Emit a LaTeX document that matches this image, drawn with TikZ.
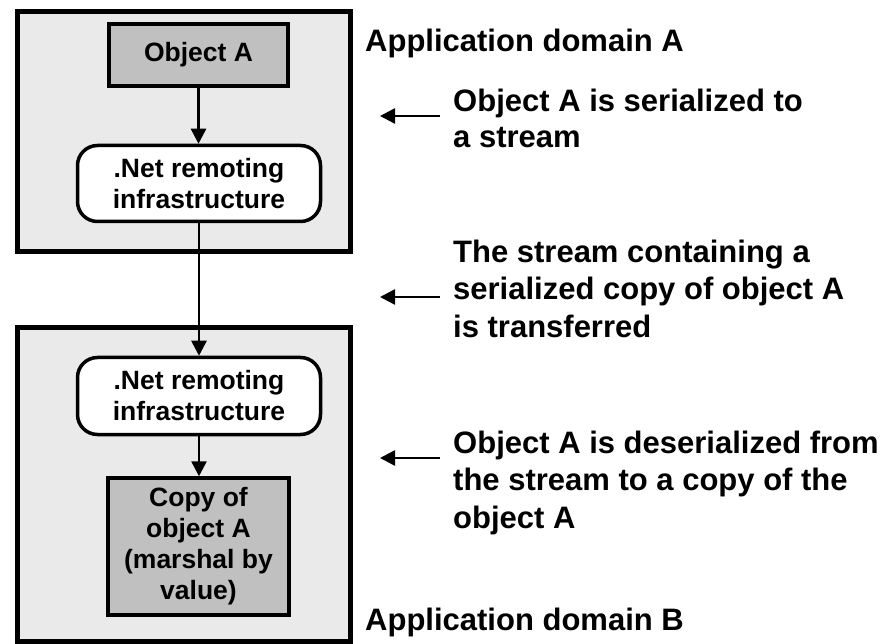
\documentclass[tikz,border=0pt]{standalone}
\usepackage{fontspec}
\setmainfont{Liberation Sans}
\usetikzlibrary{arrows.meta}
\definecolor{domfill}{HTML}{EAEAEA}
\definecolor{objfill}{HTML}{C0C0C0}
\newcommand{\boxfont}{\fontsize{26.5}{31}\selectfont\bfseries}
\newcommand{\lblfont}{\fontsize{31}{37}\selectfont\bfseries}
\tikzset{
  dom/.style={draw=black, line width=4.5pt, fill=domfill, inner sep=0pt},
  obj/.style={draw=black, line width=3.5pt, fill=objfill, inner sep=0pt, align=center, font=\boxfont},
  rnd/.style={draw=black, line width=3.5pt, fill=white, rounded corners=20pt, inner sep=0pt, align=center, font=\boxfont},
  conn/.style={line width=2.6pt, -{Triangle[length=15pt,width=15pt]}},
  pointer/.style={line width=2.6pt, -{Triangle[length=15pt,width=15pt]}},
  lbl/.style={anchor=base west, inner sep=0pt, font=\lblfont}
}
\begin{document}
\begin{tikzpicture}[x=1pt,y=-1pt]
\useasboundingbox (0,0) rectangle (892,644);
\fill[white] (0,0) rectangle (892,644);
% domain boxes
\node[dom, minimum width=333pt, minimum height=240pt] (domA) at (184,131.5) {};
\node[dom, minimum width=333pt, minimum height=314pt] (domB) at (184,484.5) {};
% inner boxes
\node[obj, minimum width=179pt, minimum height=62pt] (objA) at (198.5,55) {Object A};
\node[rnd, minimum width=243pt, minimum height=76pt] (net1) at (199,183.5) {.Net remoting\\infrastructure};
\node[rnd, minimum width=243pt, minimum height=77pt] (net2) at (199,396) {.Net remoting\\infrastructure};
\node[obj, minimum width=181pt, minimum height=137pt] (copyA) at (198.5,546.5) {Copy of\\object A\\(marshal by\\value)};
% connectors
\draw[conn] (objA.south) -- (objA.south |- net1.north);
\draw[conn] (net1.south) -- (net1.south |- net2.north);
\draw[conn] (net2.south) -- (net2.south |- copyA.north);
% labels
\node[lbl] (appA) at (365,52) {Application domain A};
\node[lbl] (s1a) at (453,112) {Object A is serialized to};
\node[lbl] (s1b) at (453,148) {a stream};
\node[lbl] (s2a) at (453,263) {The stream containing a};
\node[lbl] (s2b) at (453,300) {serialized copy of object A};
\node[lbl] (s2c) at (453,338) {is transferred};
\node[lbl] (s3a) at (453,453) {Object A is deserialized from};
\node[lbl] (s3b) at (453,490) {the stream to a copy of the};
\node[lbl] (s3c) at (453,528) {object A};
\node[lbl] (appB) at (365,630) {Application domain B};
% pointer arrows
\coordinate (p1s) at (440,116); \coordinate (p1e) at (380,116);
\coordinate (p2s) at (440,297); \coordinate (p2e) at (380,297);
\coordinate (p3s) at (440,458); \coordinate (p3e) at (380,458);
\draw[pointer] (p1s) -- (p1e);
\draw[pointer] (p2s) -- (p2e);
\draw[pointer] (p3s) -- (p3e);
\end{tikzpicture}
\end{document}
